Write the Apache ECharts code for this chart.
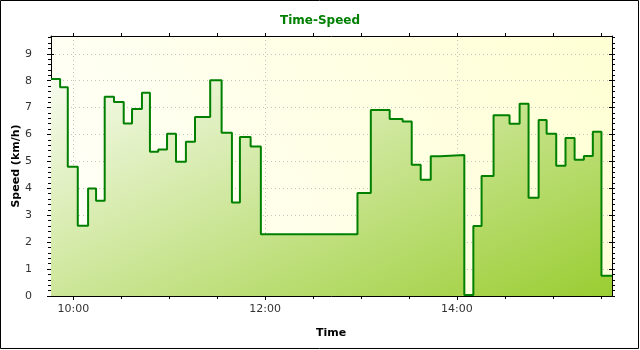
<!DOCTYPE html>
<html><head><meta charset="utf-8">
<script src="https://cdn.jsdelivr.net/npm/echarts@6/dist/echarts.min.js"></script>
<style>html,body{margin:0;padding:0;background:#fff}#c{width:640px;height:350px}</style>
</head><body><div id="c"></div>
<script>
// ---- data ----
const times = ["09:46:00","09:51:42","09:56:30","10:02:45","10:09:12","10:14:12","10:19:36","10:25:24","10:31:30","10:36:42",
  "10:42:54","10:47:54","10:53:06","10:58:36","11:04:12","11:10:24","11:16:06","11:25:36","11:32:45","11:39:12",
  "11:44:12","11:50:54","11:57:18","12:57:45","13:06:06","13:17:54","13:26:00","13:31:42","13:37:18","13:43:36",
  "13:49:24","14:04:36","14:10:15","14:15:24","14:22:54","14:32:54","14:39:12","14:44:48","14:51:06","14:56:06",
  "15:02:06","15:07:54","15:13:36","15:19:24","15:25:00","15:30:24","15:37:00"];
const speeds = [8.06,7.76,4.80,2.61,3.99,3.54,7.40,7.21,6.41,6.95,
  7.55,5.36,5.44,6.03,4.99,5.73,6.65,8.02,6.07,3.47,
  5.91,5.55,2.29,3.83,6.91,6.58,6.48,4.88,4.32,5.19,
  5.24,0.04,2.60,4.46,6.72,6.40,7.14,3.65,6.54,6.03,
  4.84,5.87,5.06,5.20,6.10,0.75,0.75];
const xStart = "09:46:00", xEnd = "15:37:00";
const xMajorLabels = ["10:00","12:00","14:00"];
const xMinorLabels = ["10:30","11:00","11:30","12:30","13:00","13:30","14:30","15:00","15:30"];
const yMajor = [0,1,2,3,4,5,6,7,8,9];
const yMax = 9.66;
const titleText = "Time-Speed", xName = "Time", yName = "Speed (km/h)";

function toMin(s){const p=s.split(':').map(Number);return p[0]*60+p[1]+(p[2]||0)/60;}
function fmt(v){const h=Math.floor(v/60+1e-9), m=Math.round(v-h*60);return (h<10?'0':'')+h+':'+(m<10?'0':'')+m;}
const xMin = toMin(xStart), xMax = toMin(xEnd);
const xMajor = xMajorLabels.map(toMin), xMinor = xMinorLabels.map(toMin);
const yMinor = [];
for (let i=1;i<=48;i++){ if(i%5!==0) yMinor.push(+(i*0.2).toFixed(1)); }
const seriesData = times.map((t,i)=>[toMin(t), speeds[i]]);

const FONT = 'DejaVu Sans';
const G = {left:51, right:612, top:36, bottom:296};
const hidden = {axisLine:{show:false},axisTick:{show:false},axisLabel:{show:false},splitLine:{show:false}};
function xa(pos, extra){return Object.assign({type:'value',min:xMin,max:xMax,position:pos,gridIndex:0},JSON.parse(JSON.stringify(hidden)),extra);}
function ya(pos, extra){return Object.assign({type:'value',min:0,max:yMax,position:pos,gridIndex:0},JSON.parse(JSON.stringify(hidden)),extra);}
const blk = {color:'#000',width:1};
const dotted = {show:true,lineStyle:{color:'#c4c4c4',width:1,type:[1,3]}};

const option = {
  animation:false,
  backgroundColor:'#fff',
  title:{text:titleText,left:'center',top:10,textStyle:{color:'#008000',fontFamily:FONT,fontSize:12,fontWeight:'bold'}},
  grid:{left:G.left,right:640-G.right,top:G.top,bottom:350-G.bottom,show:true,borderWidth:0,
    backgroundColor:{type:'linear',x:G.left,y:G.bottom,x2:G.right,y2:G.top,global:true,
      colorStops:[{offset:0,color:'#fffffa'},{offset:1,color:'#ffffd4'}]}},
  xAxis:[
    xa('bottom',{axisLine:{show:true,onZero:false,lineStyle:blk},
      axisTick:{show:true,customValues:xMajor,length:4,lineStyle:blk},
      axisLabel:{show:true,customValues:xMajor,formatter:fmt,margin:8,fontFamily:FONT,fontSize:11,color:'#333'},
      splitLine:dotted}),
    xa('bottom',{axisTick:{show:true,inside:true,customValues:xMajor,length:3,lineStyle:blk}}),
    xa('bottom',{axisTick:{show:true,customValues:xMinor,length:3,lineStyle:blk}}),
    xa('top',{axisLine:{show:true,onZero:false,lineStyle:blk},
      axisTick:{show:true,customValues:xMajor.concat(xMinor),length:3,lineStyle:blk}}),
    xa('top',{axisTick:{show:true,inside:true,customValues:xMajor,length:3,lineStyle:blk}})
  ],
  yAxis:[
    ya('left',{axisLine:{show:true,onZero:false,lineStyle:blk},
      axisTick:{show:true,customValues:yMajor,length:4,lineStyle:blk},
      axisLabel:{show:true,customValues:yMajor,margin:19,fontFamily:FONT,fontSize:11,color:'#333'},
      splitLine:dotted}),
    ya('left',{axisTick:{show:true,inside:true,customValues:yMajor,length:3,lineStyle:blk}}),
    ya('left',{axisTick:{show:true,customValues:yMinor,length:3,lineStyle:blk}}),
    ya('right',{axisLine:{show:true,onZero:false,lineStyle:blk},
      axisTick:{show:true,customValues:yMajor.concat(yMinor),length:3,lineStyle:blk}}),
    ya('right',{axisTick:{show:true,inside:true,customValues:yMajor,length:3,lineStyle:blk}})
  ],
  series:[{
    type:'line',xAxisIndex:0,yAxisIndex:0,step:'end',symbol:'none',data:seriesData,
    lineStyle:{color:'#008000',width:2},
    areaStyle:{opacity:1,color:{type:'linear',x:232,y:-48,x2:431,y2:380,global:true,
      colorStops:[{offset:0,color:'#ffffff'},{offset:1,color:'#9acd32'}]}}
  }],
  graphic:[
    {type:'rect',shape:{x:0.5,y:0.5,width:638,height:348},style:{fill:'none',stroke:'#000',lineWidth:1},silent:true,z:100},
    {type:'text',x:16.5,y:166,rotation:Math.PI/2,style:{text:yName,fontFamily:FONT,fontSize:11,fontWeight:'bold',fill:'#000',align:'center',verticalAlign:'middle'}},
    {type:'text',x:331,y:333,style:{text:xName,fontFamily:FONT,fontSize:11,fontWeight:'bold',fill:'#000',align:'center',verticalAlign:'middle'}}
  ]
};
const chart = echarts.init(document.getElementById('c'),null,{renderer:'canvas'});
chart.setOption(option);
</script>
</body></html>
